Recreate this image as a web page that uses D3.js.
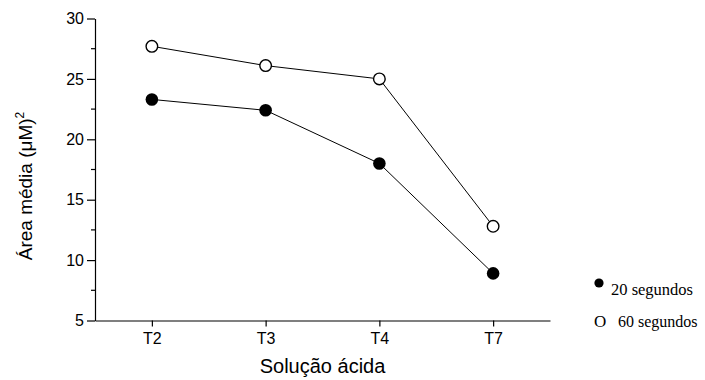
<!DOCTYPE html>
<html>
<head>
<script type="text/javascript" src="https://d3js.org/d3.v7.min.js"></script>
<title>Area media</title>
<style>
  body { margin:0; background:#fff; }
</style>
</head>
<body>
<div id="chart"></div>
<script type="text/javascript">
var categories = ["T2", "T3", "T4", "T7"];
var s20 = [23.3, 22.4, 18.0, 8.9];   // 20 segundos (filled)
var s60 = [27.7, 26.1, 25.0, 12.8];  // 60 segundos (open)
var yTicks = [5, 10, 15, 20, 25, 30];

(function(){
  var w = 705, h = 380;
  var left = 95, right = 550, top = 18.5, bottom = 320.5;
  var sans = "'Liberation Sans', Arial, sans-serif";
  var serif = "'Liberation Serif', 'Times New Roman', serif";

  var svg = d3.select("#chart").append("svg")
      .attr("width", w).attr("height", h)
      .style("font-family", sans);

  var x = d3.scalePoint().domain(categories).range([left, right]).padding(0.5);
  var y = d3.scaleLinear().domain([5, 30]).range([bottom, top]);

  // y axis
  var yAxis = svg.append("g").attr("transform", "translate(" + left + ",0)")
      .call(d3.axisLeft(y).tickValues(yTicks).tickSize(8).tickPadding(3).tickSizeOuter(0));
  yAxis.attr("font-family", null).attr("font-size", null);
  yAxis.select(".domain").attr("stroke", "#000").attr("stroke-width", 1.2);
  yAxis.selectAll(".tick line").attr("stroke", "#000").attr("stroke-width", 1.2);
  yAxis.selectAll(".tick text").style("font-size", "16px").attr("fill", "#000");
  // minor ticks
  svg.append("g").selectAll("line")
    .data(d3.range(7.5, 30, 5))
    .enter().append("line")
      .attr("x1", left - 4).attr("x2", left)
      .attr("y1", function(d){ return y(d); }).attr("y2", function(d){ return y(d); })
      .attr("stroke", "#000").attr("stroke-width", 1.2);

  // x axis
  var xAxis = svg.append("g").attr("transform", "translate(0," + bottom + ")")
      .call(d3.axisBottom(x).tickSize(6).tickPadding(6).tickSizeOuter(0));
  xAxis.attr("font-family", null).attr("font-size", null);
  xAxis.select(".domain").attr("stroke", "#000").attr("stroke-width", 1.2);
  xAxis.selectAll(".tick line").attr("stroke", "#000").attr("stroke-width", 1.2);
  xAxis.selectAll(".tick text").style("font-size", "16px").attr("fill", "#000");

  // axis titles
  svg.append("text")
     .attr("x", (left + right) / 2).attr("y", 373)
     .attr("text-anchor", "middle").style("font-size", "20px")
     .text("Solução ácida");

  var yl = svg.append("text")
     .attr("transform", "translate(32,186) rotate(-90)")
     .attr("text-anchor", "middle").style("font-size", "19px");
  yl.append("tspan").text("Área média (μM)");
  yl.append("tspan").attr("dy", -8).style("font-size", "12px").text("2");

  var line = d3.line()
      .x(function(d, i){ return x(categories[i]); })
      .y(function(d){ return y(d); });

  [s60, s20].forEach(function(s){
    svg.append("path").datum(s)
      .attr("d", line).attr("fill", "none")
      .attr("stroke", "#000").attr("stroke-width", 1);
  });

  svg.append("g").selectAll("circle")
    .data(s20).enter().append("circle")
      .attr("cx", function(d, i){ return x(categories[i]); })
      .attr("cy", function(d){ return y(d); })
      .attr("r", 6.3).attr("fill", "#000");

  svg.append("g").selectAll("circle")
    .data(s60).enter().append("circle")
      .attr("cx", function(d, i){ return x(categories[i]); })
      .attr("cy", function(d){ return y(d); })
      .attr("r", 5.8).attr("fill", "#fff")
      .attr("stroke", "#000").attr("stroke-width", 1.4);

  // legend
  svg.append("circle").attr("cx", 599).attr("cy", 283).attr("r", 4.6).attr("fill", "#000");
  svg.append("text").attr("x", 611).attr("y", 295)
     .style("font-family", serif).style("font-size", "16.5px").text("20 segundos");
  svg.append("text").attr("x", 594).attr("y", 327)
     .style("font-family", serif).style("font-size", "17px").text("O");
  svg.append("text").attr("x", 618).attr("y", 327)
     .style("font-family", serif).style("font-size", "16px").text("60 segundos");
})();
</script>
</body>
</html>
